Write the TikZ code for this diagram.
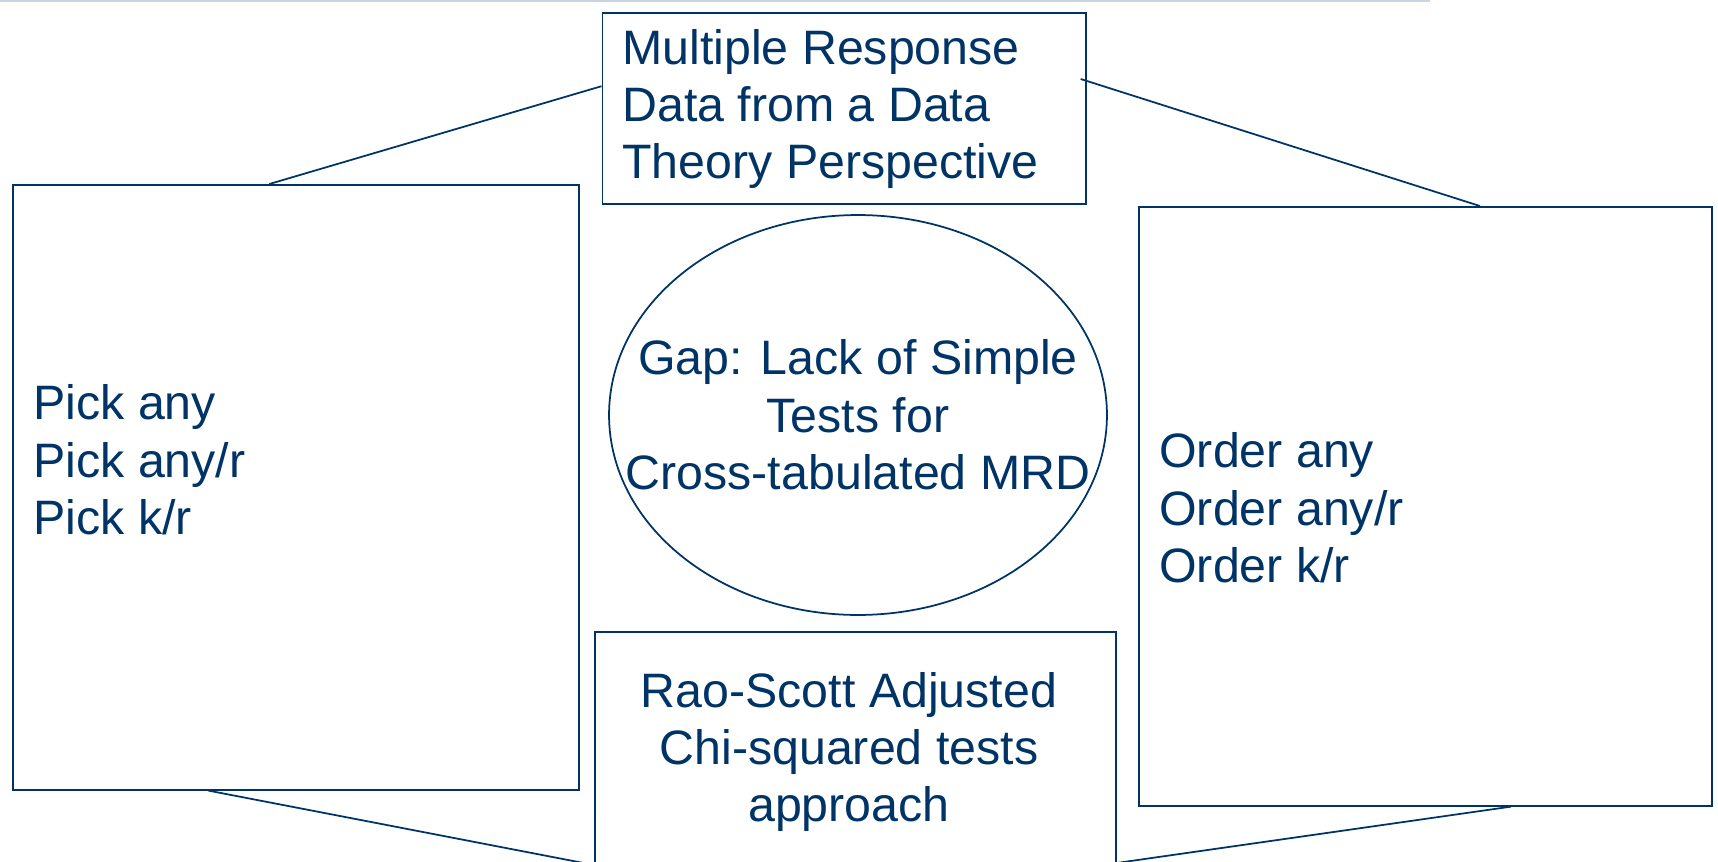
\documentclass[tikz,border=0pt]{standalone}
\usepackage{fontspec}
\setmainfont{Liberation Sans}
\usetikzlibrary{shapes.geometric,calc}
\definecolor{navy}{RGB}{0,51,102}
\definecolor{rulegrey}{RGB}{200,212,224}
\begin{document}
\begin{tikzpicture}[x=0.02cm,y=-0.02cm,
  shapebox/.style={draw=navy,line width=1pt,rectangle,inner sep=0pt,anchor=north west},
  txt/.style={text=navy,inner sep=0pt,font=\fontsize{27.5}{32.6}\selectfont},
  link/.style={draw=navy,line width=1pt}]
\useasboundingbox (0,0) rectangle (1718,862);
\clip (0,0) rectangle (1718,862);
\fill[white] (0,0) rectangle (1718,862);
\draw[rulegrey,line width=1.2pt] (0,1) -- (1430,1);
% shapes
\node[shapebox,minimum width=9.67cm,minimum height=3.82cm] (top) at (601.5,12) {};
\node[shapebox,minimum width=11.33cm,minimum height=12.10cm] (left) at (12,184) {};
\node[shapebox,minimum width=11.46cm,minimum height=11.98cm] (right) at (1138,206) {};
\node[shapebox,minimum width=10.42cm,minimum height=6.0cm] (bot) at (594,631) {};
\node[draw=navy,line width=1pt,ellipse,minimum width=9.96cm,minimum height=8.0cm,inner sep=0pt] (gap) at (858,415) {};
% texts
\node[txt,anchor=west,align=left] (toptext) at (622,109) {Multiple Response\\Data from a Data\\Theory Perspective};
\node[txt,anchor=west,align=left] (lefttext) at (33,460) {Pick any\\Pick any/r\\Pick k/r};
\node[txt,anchor=west,align=left] (righttext) at (1159,508) {Order any\\Order any/r\\Order k/r};
\node[txt,align=center] (gaptext) at (858,415) {Gap: Lack of Simple\\Tests for\\Cross-tabulated MRD};
\node[txt,align=center] (bottext) at (849,752) {Rao-Scott Adjusted\\Chi-squared tests\\approach};
% connectors
\draw[link] ($(top.north west)!0.385!(top.south west)$) -- ($(left.north west)!0.453!(left.north east)$);
\draw[link] ($(top.north east)+(-6,67)$) -- ($(right.north west)!0.595!(right.north east)$);
\draw[link] ($(left.south west)!0.346!(left.south east)$) -- ($(bot.north west)+(0,234)$);
\draw[link] ($(right.south west)!0.649!(right.south east)$) -- ($(bot.north east)+(0,232)$);
\end{tikzpicture}
\end{document}
